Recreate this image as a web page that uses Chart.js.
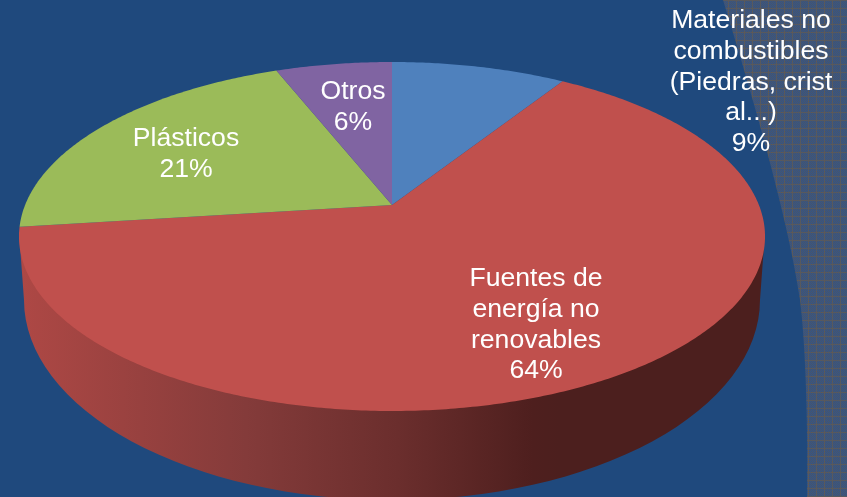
<!DOCTYPE html>
<html lang="es">
<head>
<meta charset="utf-8">
<style>html,body{margin:0;padding:0;background:#1F497D;overflow:hidden}canvas{display:block}</style>
<script src="https://cdn.jsdelivr.net/npm/chart.js@4"></script>
</head>
<body>
<div style="width:847px;height:497px"><canvas id="c" width="847" height="497"></canvas></div>
<script>
const categories = ["Materiales no combustibles (Piedras, cristal...)", "Fuentes de energía no renovables", "Plásticos", "Otros"];
const values = [9, 64, 21, 6];
const sliceColors = ["#4F81BD", "#C0504D", "#9BBB59", "#8064A2"];
const labelLines = [
  ["Materiales no", "combustibles", "(Piedras, crist", "al...)", "9%"],
  ["Fuentes de", "energía no", "renovables", "64%"],
  ["Plásticos", "21%"],
  ["Otros", "6%"]
];
const labelAnchors = [[751, 21], [536, 279], [186, 139], [353, 92]];

const apex = {x: 392, y: 205}, persp = -0.1805, sx = 366.9, sy = 168.8;
function project(a) {
  const u = Math.cos(a), v = Math.sin(a), w = 1 + persp * v;
  return {x: apex.x + sx * u / w, y: apex.y + sy * v / w};
}

function tile() {
  const t = document.createElement("canvas");
  t.width = t.height = 8;
  const g = t.getContext("2d");
  for (let y = 0; y < 8; y++) for (let x = 0; x < 8; x++) {
    g.fillStyle = (x === 0 || y === 0) ? "#58595e" : ((x + y) % 2 ? "#33558a" : "#4a5568");
    g.fillRect(x, y, 1, 1);
  }
  return t;
}

const pie3d = {
  id: "pie3d",
  beforeDraw(chart) {
    const c = chart.ctx;
    c.save();
    c.fillStyle = "#1F497D";
    c.fillRect(0, 0, 847, 497);
    c.beginPath();
    c.moveTo(723, 0);
    c.bezierCurveTo(760, 120, 790, 230, 800, 300);
    c.bezierCurveTo(806, 350, 808, 430, 807, 497);
    c.lineTo(847, 497);
    c.lineTo(847, 0);
    c.closePath();
    c.fillStyle = c.createPattern(tile(), "repeat");
    c.fill();
    c.restore();
  },
  beforeDatasetsDraw(chart) {
    const c = chart.ctx, arcs = chart.getDatasetMeta(0).data;
    c.save();
    const grad = c.createLinearGradient(19, 0, 560, 0);
    grad.addColorStop(0, "#AE4845");
    grad.addColorStop(0.42, "#843B3A");
    grad.addColorStop(0.7, "#6B2E2D");
    grad.addColorStop(0.95, "#4E1F1E");
    grad.addColorStop(1, "#4C1F1E");
    c.beginPath();
    c.ellipse(392, 300, 368, 200, 0, 0, Math.PI);
    c.lineTo(19, 232);
    c.lineTo(765, 232);
    c.closePath();
    c.fillStyle = grad;
    c.fill();
    arcs.forEach((arc) => {
      const p = arc.getProps(["startAngle", "endAngle"], true);
      c.beginPath();
      c.moveTo(apex.x, apex.y);
      const n = Math.ceil((p.endAngle - p.startAngle) / 0.01);
      for (let k = 0; k <= n; k++) {
        const q = project(p.startAngle + (p.endAngle - p.startAngle) * k / n);
        c.lineTo(q.x, q.y);
      }
      c.closePath();
      c.fillStyle = arc.options.backgroundColor;
      c.fill();
    });
    c.fillStyle = "#fff";
    c.font = '26.6px "Liberation Sans"';
    c.textAlign = "center";
    c.textBaseline = "middle";
    labelLines.forEach((lines, i) => {
      lines.forEach((t, j) => c.fillText(t, labelAnchors[i][0], labelAnchors[i][1] + j * 30.6));
    });
    c.restore();
    return false;
  }
};

new Chart(document.getElementById("c"), {
  type: "pie",
  data: {labels: categories, datasets: [{data: values, backgroundColor: sliceColors, borderWidth: 0}]},
  options: {
    responsive: false,
    animation: false,
    plugins: {legend: {display: false}, tooltip: {enabled: false}, title: {display: false}}
  },
  plugins: [pie3d]
});
</script>
</body>
</html>
